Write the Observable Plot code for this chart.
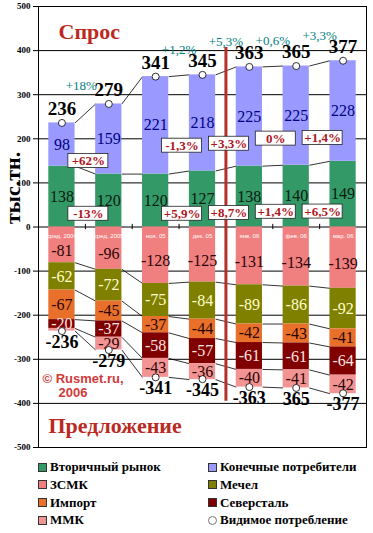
<!DOCTYPE html>
<html><head><meta charset="utf-8">
<script src="https://cdn.jsdelivr.net/npm/d3@7"></script>
<script src="https://cdn.jsdelivr.net/npm/@observablehq/plot@0.6"></script>
<style>
body{margin:0;background:#fff;}
#wrap{position:relative;width:373px;height:533px;overflow:hidden;background:#fff;}
#wrap svg{display:block;}
.item{position:absolute;height:18px;line-height:18px;display:flex;align-items:center;white-space:nowrap;font:bold 13px "Liberation Serif",serif;color:#000;}
.sw{width:7px;height:7px;border:1px solid #333;margin-right:3px;box-sizing:content-box;}
.circ{width:7px;height:7px;border:1px solid #777;border-radius:50%;margin-right:3px;background:#fff;}
</style></head><body><div id="wrap"></div>
<script>
// ---- data ----
const categories = ["сред. 2004","сред. 2005","ноя. 05","дек. 05","янв. 06","фев. 06","мар. 06"];
const secondary = [138,120,120,127,138,140,149];      // Вторичный рынок
const endUsers  = [98,159,221,218,225,225,228];       // Конечные потребители
const zsmk      = [-81,-96,-128,-125,-131,-134,-139]; // ЗСМК
const mechel    = [-62,-72,-75,-84,-89,-86,-92];      // Мечел
const importV   = [-67,-45,-37,-44,-42,-43,-41];      // Импорт
const severstal = [-20,-37,-58,-57,-61,-61,-64];      // Северсталь
const mmk       = [-6,-29,-43,-36,-40,-41,-42];       // ММК
const consumption = [236,279,341,345,363,365,377];    // Видимое потребление
const negTotalLabels = ["-236","-279","-341","-345","-363","365","-377"];
const totalChange     = ["+18%","","+1,2%","+5,3%","+0,6%","+3,3%"];
const endUsersChange  = ["+62%","","-1,3%","+3,3%","0%","+1,4%"];
const secondaryChange = ["-13%","","+5,9%","+8,7%","+1,4%","+6,5%"];
const yTicks = [-500,-400,-300,-200,-100,0,100,200,300,400,500];

// ---- styling per series ----
const series = [
  {name:"Вторичный рынок", values:secondary, fill:"#339966", ink:"#0a1a10"},
  {name:"Конечные потребители", values:endUsers, fill:"#9999ff", ink:"#000080"},
  {name:"ЗСМК", values:zsmk, fill:"#f08080", ink:"#2a0505"},
  {name:"Мечел", values:mechel, fill:"#808000", ink:"#ffffcc"},
  {name:"Импорт", values:importV, fill:"#e8702a", ink:"#2a0505"},
  {name:"Северсталь", values:severstal, fill:"#800000", ink:"#ffe4e4"},
  {name:"ММК", values:mmk, fill:"#f29494", ink:"#2a0505"}
];
const L = 0.22, R = 0.78; // bar edges inside each category slot

const rows = [];
categories.forEach((c, i) => {
  let pos = 0, neg = 0;
  for (const s of series) {
    const v = s.values[i];
    let a, b;
    if (v >= 0) { a = pos; b = pos + v; pos = b; } else { a = neg; b = neg + v; neg = b; }
    rows.push({i, cat:c, series:s.name, value:v, y1:a, y2:b, fill:s.fill, ink:s.ink});
  }
});
const links = [];
for (const s of series) {
  for (let i = 0; i < categories.length - 1; i++) {
    const a = rows.find(r => r.i === i && r.series === s.name);
    const b = rows.find(r => r.i === i + 1 && r.series === s.name);
    links.push({xa:i + R, ya:a.y2, xb:i + 1 + L, yb:b.y2});
  }
}
const pairs = d3.range(categories.length - 1);
const teal = pairs.map(i => ({k:i, x:i + 1, y:Math.max(consumption[i], consumption[i+1]), t:totalChange[i]})).filter(d => d.t);
const boxes = pairs.map(i => ({x:i + 1, y:0.8 * (secondary[i] + consumption[i]) / 2, t:endUsersChange[i]}))
  .concat(pairs.map(i => ({x:i + 1, y:0.25 * Math.min(secondary[i], secondary[i+1]), t:secondaryChange[i]})))
  .filter(d => d.t);
const split = categories.findIndex(c => c.includes("06"));
const maxTotal = d3.max(consumption);

const serif = "'Liberation Serif', 'Times New Roman', serif";
const sans = "'Liberation Sans', Arial, sans-serif";
const chart = Plot.plot({
  width:373, height:455, marginLeft:38, marginRight:7, marginTop:6, marginBottom:8,
  style:{fontFamily:serif, fontSize:"9px", fontWeight:"bold", background:"white", color:"#000", overflow:"visible"},
  x:{domain:[0, categories.length], axis:null},
  y:{domain:[-500, 500], ticks:yTicks, tickFormat:d => String(d), tickSize:5, tickPadding:3, label:null},
  color:{type:"identity"},
  marks:[
    Plot.ruleY(yTicks, {stroke:"#000", strokeWidth:1}),
    Plot.ruleX(d3.range(0, categories.length + 1), {y1:-6, y2:6, stroke:"#000"}),
    Plot.link(links, {x1:"xa", y1:"ya", x2:"xb", y2:"yb", stroke:"#000", strokeWidth:0.8}),
    Plot.rect(rows, {x1:d => d.i + L, x2:d => d.i + R, y1:"y1", y2:"y2", fill:"fill"}),
    Plot.text(categories, {x:(d, i) => i + 0.5, y:() => 0, dy:9, text:d => d, fill:"white", fontSize:6, fontWeight:"normal", fontFamily:sans}),
    Plot.text(rows.filter(d => Math.abs(d.value) >= 10 && d.series !== "ЗСМК"), {x:d => d.i + 0.5, y:d => (d.y1 + d.y2) / 2, text:d => String(d.value), fill:"ink", fontSize:16, fontWeight:"normal"}),
    Plot.text(rows.filter(d => d.series === "ЗСМК"), {x:d => d.i + 0.5, y:d => (d.y1 + d.y2) / 2, dy:6, text:d => String(d.value), fill:"ink", fontSize:16, fontWeight:"normal"}),
    Plot.ruleX([split], {y1:-maxTotal - 18, y2:maxTotal + 30, stroke:"#b3302a", strokeWidth:3}),
    Plot.dot(consumption, {x:(d, i) => i + 0.5, y:d => d, r:3.5, fill:"white", stroke:"#000", strokeWidth:0.8}),
    Plot.dot(consumption, {x:(d, i) => i + 0.5, y:d => -d, r:3.5, fill:"white", stroke:"#000", strokeWidth:0.8}),
    Plot.text(consumption, {x:(d, i) => i + 0.5, y:d => d, dy:-14, text:d => String(d), fontSize:19, fontWeight:"bold", fill:"#000"}),
    Plot.text(consumption, {x:(d, i) => i + 0.5, y:d => -d, dy:11, text:(d, i) => negTotalLabels[i], fontSize:18, fontWeight:"bold", fill:"#000"}),
    Plot.text(teal.filter(d => d.k === 0), {x:"x", y:"y", text:"t", dx:-4, dy:-18, fill:"#008080", fontSize:13, fontWeight:"normal"}),
    Plot.text(teal.filter(d => d.k > 0), {x:"x", y:"y", text:"t", dy:-25, fill:"#008080", fontSize:13, fontWeight:"normal"}),
    Plot.rect(boxes, {x1:"x", x2:"x", y1:"y", y2:"y", dx:3, insetLeft:-20, insetRight:-20, insetTop:-7, insetBottom:-7, fill:"white", stroke:"#222", strokeWidth:0.8}),
    Plot.text(boxes, {x:"x", y:"y", dx:3, text:"t", fill:"#b0141c", fontSize:13, fontWeight:"bold"}),
    Plot.text(["Спрос"], {frameAnchor:"top-left", lineAnchor:"middle", dx:20, dy:25, textAnchor:"start", fill:"#bb2a22", fontSize:22, fontWeight:"bold"}),
    Plot.text(["Предложение"], {frameAnchor:"bottom-left", lineAnchor:"middle", dx:10, dy:-22, textAnchor:"start", fill:"#bb2a22", fontSize:22, fontWeight:"bold"}),
    Plot.text(["© Rusmet.ru,"], {frameAnchor:"bottom-left", lineAnchor:"middle", dx:4, dy:-69, textAnchor:"start", fill:"#d03a3a", fontSize:13, fontWeight:"bold", fontFamily:sans}),
    Plot.text(["2006"], {frameAnchor:"bottom-left", lineAnchor:"middle", dx:20, dy:-55, textAnchor:"start", fill:"#d03a3a", fontSize:13, fontWeight:"bold", fontFamily:sans}),
    Plot.text(["тыс.тн."], {frameAnchor:"left", lineAnchor:"middle", dx:-26, dy:-3, rotate:-90, fill:"#000", fontSize:22, fontWeight:"bold"}),
    Plot.frame({stroke:"#000", strokeWidth:1})
  ]
});
const wrap = document.getElementById("wrap");
wrap.appendChild(chart);

// ---- legend ----
const legendItems = [
  {name:"Вторичный рынок", fill:"#339966"}, {name:"Конечные потребители", fill:"#9999ff"},
  {name:"ЗСМК", fill:"#f08080"}, {name:"Мечел", fill:"#808000"},
  {name:"Импорт", fill:"#e8702a"}, {name:"Северсталь", fill:"#800000"},
  {name:"ММК", fill:"#f29494"}, {name:"Видимое потребление", circle:true}
];
legendItems.forEach((it, k) => {
  const col = k % 2, row = Math.floor(k / 2);
  const el = document.createElement("div");
  el.className = "item";
  el.style.left = (col ? 208 : 38) + "px";
  el.style.top = (458 + row * 17.8) + "px";
  const sw = document.createElement("span");
  sw.className = it.circle ? "circ" : "sw";
  if (!it.circle) sw.style.background = it.fill;
  el.appendChild(sw);
  el.appendChild(document.createTextNode(it.name));
  wrap.appendChild(el);
});
</script>
</body></html>
